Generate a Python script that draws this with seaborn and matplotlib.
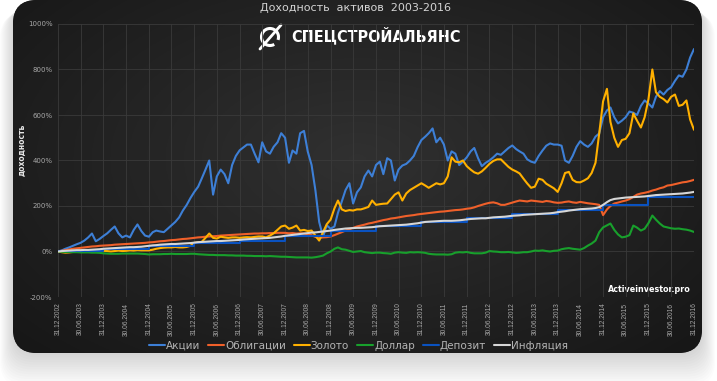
import matplotlib.pyplot as plt
import numpy as np
import pandas as pd
import seaborn as sns
from matplotlib.patches import Arc, FancyBboxPatch

# monthly closes, % return since 31.12.2002
months = pd.date_range("2002-12-31", "2016-12-31", freq="ME")

stocks = [
    0,
    5, 12, 18, 25, 32, 38, 48, 62, 79, 45, 55, 68,
    80, 95, 110, 80, 62, 70, 62, 95, 119, 90, 70, 65,
    85, 92, 88, 85, 100, 115, 130, 150, 180, 205, 235, 262,
    285, 320, 360, 400, 250, 330, 360, 340, 300, 380, 420, 445,
    458, 470, 470, 430, 392, 480, 440, 430, 460, 480, 520, 500,
    390, 444, 430, 520, 530, 440, 380, 268, 130, 65, 115, 100,
    110, 170, 220, 270, 300, 211, 260, 282, 330, 356, 330, 380,
    395, 340, 410, 400, 312, 360, 378, 385, 400, 420, 458, 490,
    505, 520, 541, 480, 500, 470, 400, 440, 430, 380, 395, 414,
    440, 455, 410, 375, 390, 400, 414, 430, 425, 440, 455, 466,
    450, 440, 430, 405, 395, 390, 420, 444, 465, 475, 470, 470,
    465, 400, 390, 420, 460, 485, 470, 460, 475, 505, 519, 590,
    620, 633, 590, 563, 575, 590, 615, 610, 600, 640, 664, 650,
    633, 680, 705, 690, 710, 722, 750, 774, 768, 800, 853, 890,
]

bonds = [
    0,
    3, 6, 9, 12, 14, 16, 18, 20, 22, 23, 25, 26,
    27, 28, 30, 31, 32, 33, 34, 35, 36, 37, 38, 40,
    41, 43, 45, 46, 48, 50, 51, 53, 55, 56, 58, 60,
    62, 63, 65, 66, 67, 68, 70, 71, 72, 73, 74, 75,
    76, 77, 78, 79, 79, 80, 80, 81, 81, 82, 82, 82,
    80, 81, 79, 80, 79, 76, 72, 64, 60, 62, 63, 66,
    72, 78, 85, 92, 98, 104, 110, 114, 118, 123, 126, 130,
    134, 138, 141, 145, 147, 150, 153, 156, 158, 160, 163, 165,
    167, 169, 171, 173, 175, 176, 178, 180, 182, 183, 185, 188,
    190, 194, 200, 205, 210, 214, 216, 212, 205, 205, 210, 215,
    220, 224, 222, 220, 224, 222, 220, 218, 222, 220, 216, 214,
    215, 218, 220, 216, 214, 218, 215, 212, 210, 208, 205, 160,
    185, 200, 211, 215, 220, 224, 230, 240, 250, 255, 258, 262,
    268, 272, 278, 282, 290, 292, 296, 300, 304, 306, 310, 315,
]

gold = [
    0,
    -3, -5, -4, -2, 0, -2, 2, 0, 2, 0, 0, 3,
    2, 0, 2, 4, 2, 3, 5, 4, 6, 5, 5, 5,
    8, 12, 15, 17, 18, 18, 20, 18, 18, 20, 25, 38,
    40, 42, 60, 79, 60, 57, 65, 62, 60, 62, 62, 60,
    62, 63, 62, 64, 66, 66, 62, 70, 80, 95, 110, 114,
    100, 105, 114, 92, 95, 90, 92, 70, 48, 85, 120, 140,
    190, 224, 185, 178, 182, 180, 185, 185, 190, 196, 224, 205,
    208, 210, 211, 230, 250, 260, 224, 255, 270, 280, 290, 300,
    290, 280, 290, 300, 295, 300, 330, 414, 395, 392, 400, 375,
    360, 348, 342, 352, 368, 385, 398, 405, 405, 388, 372, 360,
    352, 343, 320, 299, 280, 285, 320, 315, 298, 288, 278, 262,
    300, 345, 350, 315, 305, 304, 312, 322, 345, 390, 520, 660,
    715, 570, 500, 460, 490, 495, 520, 607, 575, 545, 590, 670,
    800, 700, 680, 670, 655, 680, 690, 640, 645, 664, 580, 535,
]

dollar = [
    0,
    -1, -2, -2, -3, -3, -4, -4, -4, -5, -5, -6, -8,
    -9, -10, -10, -10, -9, -9, -9, -9, -9, -10, -11, -13,
    -12, -12, -12, -11, -11, -10, -11, -11, -11, -11, -10, -10,
    -12, -13, -14, -15, -15, -16, -16, -16, -17, -17, -18, -18,
    -18, -19, -19, -20, -20, -20, -21, -20, -21, -22, -23, -23,
    -24, -25, -26, -26, -26, -26, -27, -25, -22, -18, -8, 0,
    12, 18, 10, 8, 3, -2, 0, 2, -3, -5, -7, -5,
    -5, -7, -8, -10, -5, -3, -5, -6, -3, -4, -3, -4,
    -6, -10, -12, -13, -13, -13, -14, -12, -5, -3, -4, -2,
    -6, -8, -8, -8, -5, 2, 0, -1, -3, -3, -2, -4,
    -6, -5, -3, -3, 0, 4, 3, 5, 2, 0, 3, 4,
    10, 13, 15, 12, 10, 8, 15, 26, 35, 48, 85, 106,
    115, 123, 95, 75, 62, 65, 72, 114, 105, 92, 100, 125,
    158, 140, 123, 110, 106, 102, 100, 101, 98, 96, 92, 86,
]

inflation = [
    0,
    2, 3, 4, 5, 6, 6, 7, 7, 8, 9, 10, 12,
    13, 14, 15, 16, 17, 18, 19, 19, 20, 21, 23, 25,
    27, 28, 30, 31, 32, 33, 33, 34, 35, 36, 37, 39,
    41, 42, 43, 44, 45, 46, 46, 47, 48, 49, 50, 51,
    53, 54, 55, 56, 57, 58, 59, 60, 62, 64, 66, 69,
    71, 73, 75, 77, 79, 81, 83, 84, 86, 88, 90, 92,
    95, 97, 99, 101, 102, 103, 104, 104, 105, 106, 107, 109,
    111, 112, 113, 114, 115, 116, 117, 118, 120, 122, 124, 127,
    130, 131, 132, 133, 134, 135, 135, 135, 136, 137, 139, 141,
    143, 144, 145, 146, 146, 148, 150, 151, 152, 153, 155, 157,
    158, 159, 161, 162, 163, 164, 165, 166, 167, 168, 170, 173,
    175, 177, 180, 182, 184, 186, 187, 188, 189, 191, 195, 205,
    217, 226, 231, 233, 235, 237, 238, 239, 240, 241, 242, 244,
    246, 248, 249, 250, 251, 252, 253, 254, 255, 257, 259, 262,
]

# deposit is credited once a year, so it is a step line
deposit_dates = pd.date_range("2002-12-31", "2016-12-31", freq="YE")
deposit = [0, 12, 24, 36, 48, 70, 92, 110, 128, 148, 166, 183, 205, 240, 240]

tick_dates = pd.date_range("2002-12-31", "2016-12-31", freq="6ME")
tick_labels = [d.strftime("%d.%m.%Y") for d in tick_dates]
y_ticks = [-200, 0, 200, 400, 600, 800, 1000]

sns.set_theme(style="dark")
plt.rcParams["font.family"] = ["DejaVu Sans"]

fig = plt.figure(figsize=(7.17, 3.81), dpi=100, facecolor="white")

# background card drawn in pixel coordinates
bg = fig.add_axes([0, 0, 1, 1])
bg.set_xlim(0, 717)
bg.set_ylim(381, 0)
bg.axis("off")

for k in range(14):
    bg.add_patch(FancyBboxPatch((13 - k, 2 + k * 0.9), 689 + 2 * k, 353 + k * 1.5,
                                boxstyle="round,pad=0,rounding_size=24",
                                fc="black", ec="none", alpha=0.012))
card = FancyBboxPatch((13, 0), 689, 353, boxstyle="round,pad=0,rounding_size=24",
                      fc="#222222", ec="none")
bg.add_patch(card)
gy, gx = np.mgrid[0:1:200j, 0:1:400j]
r = np.sqrt(((gx - 0.5) / 0.75) ** 2 + ((gy - 0.45) / 0.85) ** 2)
shade = np.clip(0.19 - 0.11 * r, 0.07, 0.2)
im = bg.imshow(np.dstack([shade] * 3), extent=(13, 702, 353, 0), aspect="auto", zorder=1)
im.set_clip_path(card)

bg.text(356, 8, "Доходность  активов  2003-2016", ha="center", va="center",
        fontsize=8, color="#d4d4d4", zorder=3)
bg.text(376, 35, "СПЕЦСТРОЙАЛЬЯНС", ha="center", va="center", fontsize=11.5,
        fontweight="heavy", fontstretch="condensed", color="white", zorder=3)
bg.add_patch(Arc((270, 37), 17, 17, theta1=60, theta2=380, lw=2.2, color="white", zorder=3))
bg.plot([260, 281], [49, 25], color="white", lw=2, zorder=3)
bg.text(649, 289, "Activeinvestor.pro", ha="center", va="center", fontsize=5.8,
        fontweight="bold", color="white", zorder=3)
bg.text(22, 150, "доходность", ha="center", va="center", rotation=90, fontsize=5.5,
        fontweight="bold", color="#e6e6e6", zorder=3)

ax = fig.add_axes([58 / 717, 1 - 297 / 381, 636 / 717, 273 / 381])
ax.set_facecolor("none")

lw = 1.5
sns.lineplot(x=months, y=stocks, color="#3d7fd6", lw=lw, label="Акции", ax=ax)
sns.lineplot(x=months, y=bonds, color="#f0602a", lw=lw, label="Облигации", ax=ax)
sns.lineplot(x=months, y=gold, color="#ffb000", lw=lw, label="Золото", ax=ax)
sns.lineplot(x=months, y=dollar, color="#18a02c", lw=lw, label="Доллар", ax=ax)
sns.lineplot(x=deposit_dates, y=deposit, color="#0a52c0", lw=lw, label="Депозит",
             drawstyle="steps-post", ax=ax)
sns.lineplot(x=months, y=inflation, color="#d6d6d6", lw=lw, label="Инфляция", ax=ax)

ax.set_xlim(months[0], months[-1])
ax.set_ylim(-200, 1000)
ax.set_xticks(tick_dates)
ax.set_xticklabels(tick_labels, rotation=90, fontsize=4.8, color="#a8a8a8",
                   family=["Liberation Sans", "DejaVu Sans"])
ax.set_yticks(y_ticks)
ax.set_yticklabels([f"{v}%" for v in y_ticks], fontsize=5, color="#a8a8a8")
ax.tick_params(length=0, pad=4)
ax.grid(True, color="#3a3a3a", lw=0.6)
ax.set_xlabel("")
ax.set_ylabel("")
for s in ax.spines.values():
    s.set_visible(False)

handles, labels = ax.get_legend_handles_labels()
ax.get_legend().remove()
fig.legend(handles, labels, loc="center", bbox_to_anchor=(0.5, 1 - 346 / 381), ncol=6,
           frameon=False, fontsize=7.5, labelcolor="#b4b4b4", handlelength=1.5,
           handletextpad=0.1, columnspacing=0.8)

fig.savefig("out.png", dpi=100, facecolor="white")
